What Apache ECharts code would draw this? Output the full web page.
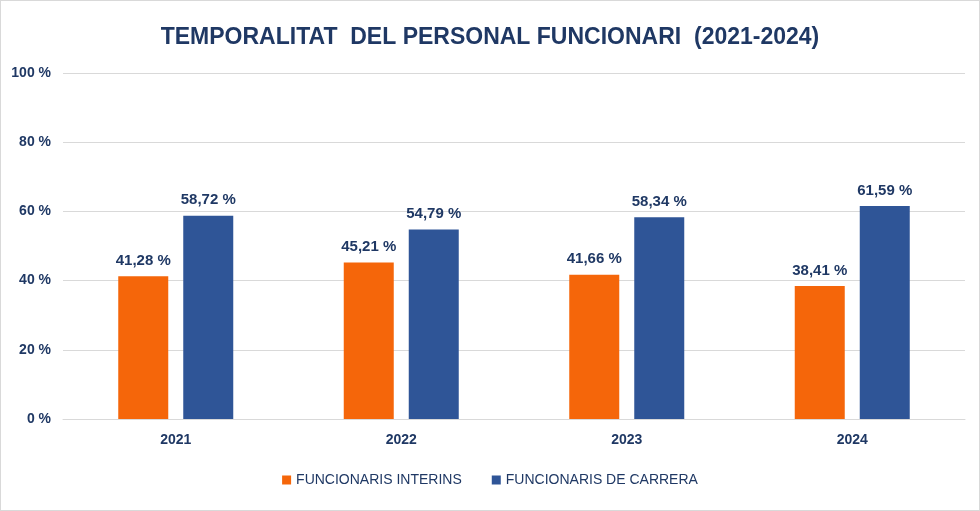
<!DOCTYPE html>
<html>
<head>
<meta charset="utf-8">
<script src="https://cdn.jsdelivr.net/npm/echarts@6/dist/echarts.min.js"></script>
<style>
  html, body { margin: 0; padding: 0; background: #fff; }
  #chart { width: 978px; height: 509px; border: 1px solid #d9d9d9; }
</style>
</head>
<body>
<div id="chart"></div>
<script>
// dades del gràfic
const years = ['2021', '2022', '2023', '2024'];
const interins = [41.28, 45.21, 41.66, 38.41];
const carrera = [58.72, 54.79, 58.34, 61.59];

const fontFam = '"Liberation Sans Narrow", "Liberation Sans", sans-serif';
const navy = '#1F3864';
const fmt = p => p.value.toFixed(2).replace('.', ',') + ' %';

const chart = echarts.init(document.getElementById('chart'));
chart.setOption({
    title: {
        text: 'TEMPORALITAT  DEL PERSONAL FUNCIONARI  (2021-2024)',
        left: 'center',
        top: 20,
        textStyle: { fontFamily: fontFam, fontSize: 23, fontWeight: 'bold', color: navy }
    },
    grid: { left: 62, right: 14, top: 72, bottom: 91 },
    legend: {
        bottom: 18,
        itemWidth: 9,
        itemHeight: 9,
        itemGap: 30,
        icon: 'rect',
        textStyle: { fontFamily: fontFam, fontSize: 14, color: navy }
    },
    xAxis: {
        type: 'category',
        data: years,
        axisTick: { show: false },
        axisLine: { lineStyle: { color: '#d9d9d9' } },
        axisLabel: { fontFamily: fontFam, fontSize: 14, fontWeight: 'bold', color: navy, margin: 14 }
    },
    yAxis: {
        type: 'value',
        min: 0,
        max: 100,
        interval: 20,
        axisLabel: { formatter: '{value} %', fontFamily: fontFam, fontSize: 14, fontWeight: 'bold', color: navy, margin: 12 },
        splitLine: { lineStyle: { color: '#d9d9d9' } }
    },
    series: [
        {
            name: 'FUNCIONARIS INTERINS',
            type: 'bar',
            data: interins,
            barWidth: 50,
            barGap: '30%',
            itemStyle: { color: '#F5660A' },
            label: { show: true, position: 'top', distance: 8, formatter: fmt,
                fontFamily: fontFam, fontSize: 15, fontWeight: 'bold', color: navy }
        },
        {
            name: 'FUNCIONARIS DE CARRERA',
            type: 'bar',
            data: carrera,
            barWidth: 50,
            itemStyle: { color: '#2F5597' },
            label: { show: true, position: 'top', distance: 8, formatter: fmt,
                fontFamily: fontFam, fontSize: 15, fontWeight: 'bold', color: navy }
        }
    ]
});
</script>
</body>
</html>
